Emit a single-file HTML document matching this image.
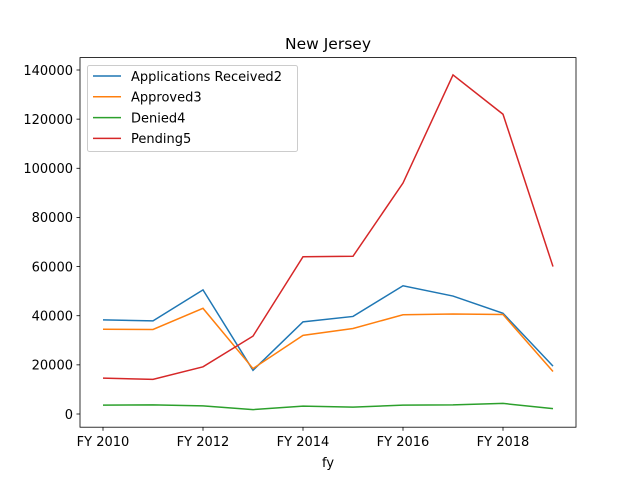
<!DOCTYPE html>
<html><head><meta charset="utf-8"><style>body{margin:0;background:#fff}svg{display:block;font-family:"DejaVu Sans","Liberation Sans",sans-serif}</style></head>
<body>
<svg id="chart" width="640" height="480">
<rect width="640" height="480" fill="#fff"/>
<text x="328" y="49" font-size="15.5" text-anchor="middle">New Jersey</text>
<g id="plot"></g>
<rect x="80" y="57.6" width="496" height="369.6" fill="none" stroke="#000" stroke-width="0.8"/>
<text x="328" y="467" font-size="13" text-anchor="middle">fy</text>
</svg>
<script>
const years=[2010,2011,2012,2013,2014,2015,2016,2017,2018,2019];
const xTicks=[2010,2012,2014,2016,2018];
const yTicks=[0,20000,40000,60000,80000,100000,120000,140000];
const seriesNames=["Applications Received2","Approved3","Denied4","Pending5"];
const colors=["#1f77b4","#ff7f0e","#2ca02c","#d62728"];
const applications=[38300,37900,50500,17800,37500,39700,52200,48000,41000,19500];
const approved=[34500,34400,43000,18500,32000,34800,40400,40700,40500,17300];
const denied=[3600,3700,3300,1800,3200,2800,3600,3700,4300,2200];
const pending=[14600,14100,19200,31700,64000,64200,94000,138000,122000,60000];
const series=[applications,approved,denied,pending];
const X=v=>103+(v-2010)*50;
const Y=v=>414-v*344/140000;
const ns="http://www.w3.org/2000/svg";
const g=document.getElementById('plot');
function mk(t,a,p){const e=document.createElementNS(ns,t);for(const k in a)e.setAttribute(k,a[k]);(p||g).appendChild(e);return e;}
xTicks.forEach(t=>{
 const l=mk('line',{x1:X(t),x2:X(t),y1:427.2,y2:430.7,stroke:'#000','stroke-width':0.8});
 
 
 const tx=mk('text',{x:X(t),y:446,'font-size':13,'text-anchor':'middle'});tx.textContent='FY '+t;
 
 
});
yTicks.forEach(t=>{
 const l=mk('line',{x1:76.5,x2:80,y1:Y(t),y2:Y(t),stroke:'#000','stroke-width':0.8});
 
 
 const tx=mk('text',{x:73,y:Y(t)+4.8,'font-size':13,'text-anchor':'end'});tx.textContent=t;
 
 
});
series.forEach((s,i)=>{
 const p=mk('polyline',{points:s.map((v,j)=>X(years[j])+','+Y(v)).join(' '),fill:'none',stroke:colors[i],'stroke-width':1.5});
 
 
});
const lg=mk('g',{});


mk('rect',{x:87.5,y:65.5,width:210,height:86,rx:2,fill:'#fff','fill-opacity':0.8,stroke:'#ccc'},lg);
seriesNames.forEach((n,i)=>{
 const y=76+i*20.8;
 mk('line',{x1:93,x2:121,y1:y,y2:y,stroke:colors[i],'stroke-width':1.5},lg);
 const t=mk('text',{x:131,y:y+4.8,'font-size':13},lg);t.textContent=n;
 
 
});
</script>
</body></html>
